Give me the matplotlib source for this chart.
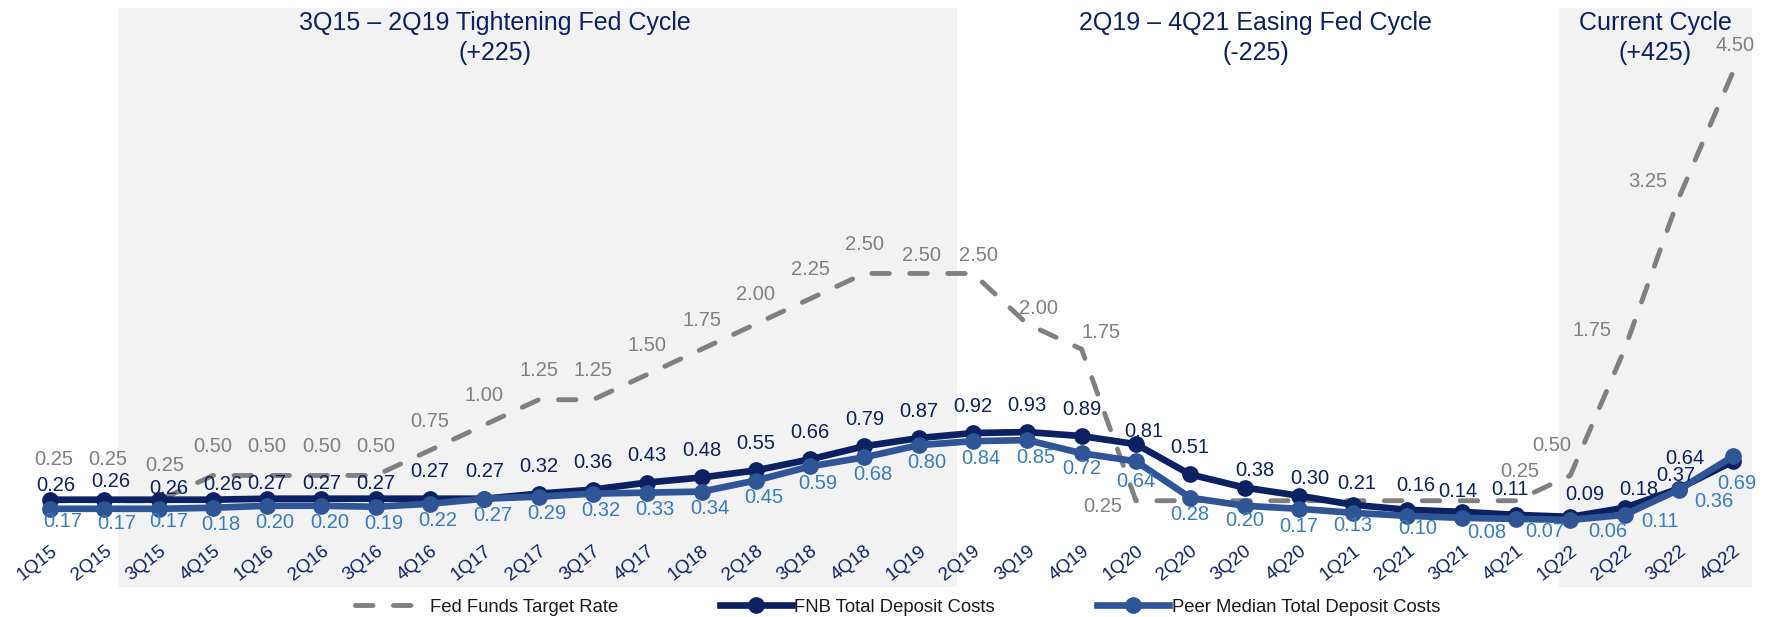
import matplotlib.pyplot as plt
from matplotlib.lines import Line2D

plt.rcParams['font.family'] = ['Liberation Sans', 'DejaVu Sans']

quarters = ['1Q15', '2Q15', '3Q15', '4Q15', '1Q16', '2Q16', '3Q16', '4Q16',
            '1Q17', '2Q17', '3Q17', '4Q17', '1Q18', '2Q18', '3Q18', '4Q18',
            '1Q19', '2Q19', '3Q19', '4Q19', '1Q20', '2Q20', '3Q20', '4Q20',
            '1Q21', '2Q21', '3Q21', '4Q21', '1Q22', '2Q22', '3Q22', '4Q22']

fed_rate = [0.25, 0.25, 0.25, 0.50, 0.50, 0.50, 0.50, 0.75,
            1.00, 1.25, 1.25, 1.50, 1.75, 2.00, 2.25, 2.50,
            2.50, 2.50, 2.00, 1.75, 0.25, 0.25, 0.25, 0.25,
            0.25, 0.25, 0.25, 0.25, 0.50, 1.75, 3.25, 4.50]

fnb_cost = [0.26, 0.26, 0.26, 0.26, 0.27, 0.27, 0.27, 0.27,
            0.27, 0.32, 0.36, 0.43, 0.48, 0.55, 0.66, 0.79,
            0.87, 0.92, 0.93, 0.89, 0.81, 0.51, 0.38, 0.30,
            0.21, 0.16, 0.14, 0.11, 0.09, 0.18, 0.37, 0.64]

peer_cost = [0.17, 0.17, 0.17, 0.18, 0.20, 0.20, 0.19, 0.22,
             0.27, 0.29, 0.32, 0.33, 0.34, 0.45, 0.59, 0.68,
             0.80, 0.84, 0.85, 0.72, 0.64, 0.28, 0.20, 0.17,
             0.13, 0.10, 0.08, 0.07, 0.06, 0.11, 0.36, 0.69]

# fed labels are left off the flat 2Q20-3Q21 stretch
fed_hidden = [21, 22, 23, 24, 25, 26]

cycles = [
    (1.25, 16.7, 8.2, '3Q15 – 2Q19 Tightening Fed Cycle', '(+225)'),
    (None, None, 22.2, '2Q19 – 4Q21 Easing Fed Cycle', '(-225)'),
    (27.8, 31.35, 29.57, 'Current Cycle', '(+425)'),
]

NAVY = '#0c2161'
PEER = '#2f5597'
PEER_TXT = '#3a7cc0'
GRAY = '#808080'
SHADE = '#f2f2f2'
FED_DASH = (0, (3.6, 4.2))

# label offsets in pixels (dx, dy), tweaks where labels would collide
fed_off = {0: (4, 41), 1: (3, 41), 2: (6, 35), 16: (3, 18), 17: (5, 18),
           18: (11, 15), 19: (19, 17), 20: (-33, -6), 27: (4, 29),
           28: (-19, 30), 29: (-33, 19), 30: (-31, 16), 31: (2, 26)}
fnb_off = {0: (6, 14), 1: (7, 18), 2: (10, 11), 3: (10, 15), 4: (0, 15),
           5: (0, 15), 6: (0, 15), 20: (8, 13), 22: (10, 17), 23: (11, 17),
           24: (4, 21), 25: (8, 24), 26: (-4, 20), 27: (-6, 25), 28: (15, 22),
           29: (14, 18), 30: (-3, 13), 31: (-48, 3)}
peer_off = {0: (13, -13), 1: (12, -15), 2: (10, -13), 19: (0, -15),
            20: (0, -20), 21: (0, -17), 22: (0, -15), 23: (0, -18),
            24: (0, -13), 25: (10, -13), 26: (25, -15), 27: (29, -13),
            28: (38, -12), 29: (35, -7), 30: (35, -12), 31: (4, -27)}

fig = plt.figure(figsize=(17.75, 6.17), dpi=100)
ax = fig.add_axes([0, 1 - 540 / 617, 1, 540 / 617])
x = list(range(len(quarters)))

for x0, x1, xc, line1, line2 in cycles:
    if x0 is not None:
        ax.axvspan(x0, x1, ymin=-0.087, ymax=0.985, color=SHADE, lw=0,
                   clip_on=False, zorder=0)
    tr = ax.get_xaxis_transform()
    ax.text(xc, 1 - 23 / 540, line1, transform=tr, ha='center', va='center',
            fontsize=18, color=NAVY)
    ax.text(xc, 1 - 53 / 540, line2, transform=tr, ha='center', va='center',
            fontsize=18, color=NAVY)

ax.plot(x, fed_rate, color=GRAY, lw=3.5, linestyle=FED_DASH,
        dash_capstyle='round', zorder=2)
ax.plot(x, fnb_cost, color=NAVY, lw=4.8, marker='o', ms=11, zorder=3)
ax.plot(x, peer_cost, color=PEER, lw=4.8, marker='o', ms=11, zorder=4)

for i in x:
    if i not in fed_hidden:
        ax.annotate(f'{fed_rate[i]:.2f}', (i, fed_rate[i]),
                    xytext=fed_off.get(i, (0, 29)), textcoords='offset pixels',
                    ha='center', va='center', fontsize=14.5, color=GRAY, zorder=5)
    ax.annotate(f'{fnb_cost[i]:.2f}', (i, fnb_cost[i]),
                xytext=fnb_off.get(i, (0, 27)), textcoords='offset pixels',
                ha='center', va='center', fontsize=14.5, color=NAVY, zorder=5)
    ax.annotate(f'{peer_cost[i]:.2f}', (i, peer_cost[i]),
                xytext=peer_off.get(i, (8, -17)), textcoords='offset pixels',
                ha='center', va='center', fontsize=14.5, color=PEER_TXT, zorder=5)

ax.set_xlim(-0.921, 31.77)
ax.set_ylim(-0.139, 5.208)
ax.set_xticks(x, quarters, rotation=38, ha='right', rotation_mode='anchor',
              fontsize=13.5, color=NAVY)
ax.tick_params(axis='x', length=0, pad=2)
ax.set_yticks([])
for s in ax.spines.values():
    s.set_visible(False)
ax.patch.set_alpha(0)

handles = [
    Line2D([], [], color=GRAY, lw=3.5, linestyle=FED_DASH, dash_capstyle='round'),
    Line2D([], [], color=NAVY, lw=4.8, marker='o', ms=11),
    Line2D([], [], color=PEER, lw=4.8, marker='o', ms=11),
]
fig.legend(handles, ['Fed Funds Target Rate', 'FNB Total Deposit Costs',
                     'Peer Median Total Deposit Costs'],
           loc='center', bbox_to_anchor=(0.5056, 1 - 607 / 617), ncol=3,
           frameon=False, fontsize=13.3, handlelength=3.9, handletextpad=0.15,
           columnspacing=5.5, labelcolor='#1a1a1a')

fig.savefig('out.png', dpi=100)
